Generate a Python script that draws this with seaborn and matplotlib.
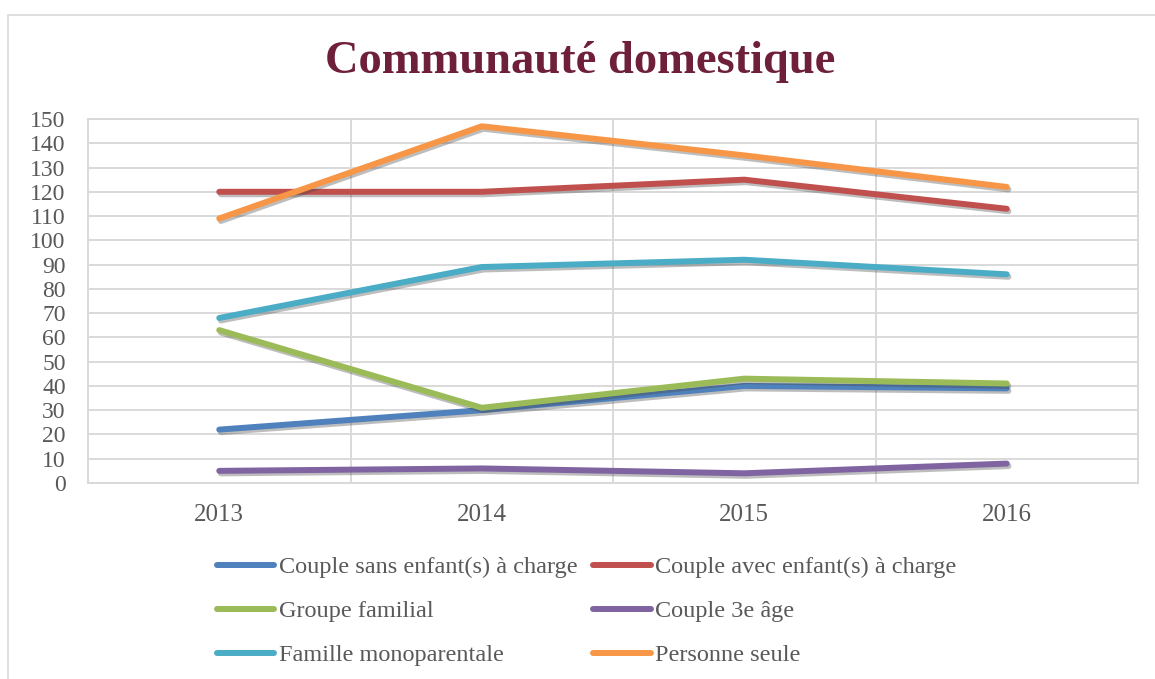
import matplotlib.pyplot as plt
import matplotlib.patheffects as pe
from matplotlib.lines import Line2D
import pandas as pd
import seaborn as sns

YEARS = ['2013', '2014', '2015', '2016']
SERIES = [
    'Couple sans enfant(s) à charge',
    'Couple avec enfant(s) à charge',
    'Groupe familial',
    'Couple 3e âge',
    'Famille monoparentale',
    'Personne seule',
]
couple_sans = [22, 30, 40, 39]
couple_avec = [120, 120, 125, 113]
groupe_familial = [63, 31, 43, 41]
couple_3e_age = [5, 6, 4, 8]
famille_mono = [68, 89, 92, 86]
personne_seule = [109, 147, 135, 122]
COLORS = ['#4F81BD', '#C0504D', '#9BBB59', '#8064A2', '#4BACC6', '#F79646']


def main() -> None:
    values = [couple_sans, couple_avec, groupe_familial, couple_3e_age, famille_mono, personne_seule]
    rows = []
    for name, vals in zip(SERIES, values):
        for year, v in zip(YEARS, vals):
            rows.append({'year': year, 'serie': name, 'value': v})
    df = pd.DataFrame(rows)

    sns.set_theme(style='white')
    plt.rcParams['font.family'] = ['Liberation Serif', 'DejaVu Serif']

    fig = plt.figure(figsize=(11.55, 6.79), dpi=100)
    ax = fig.add_axes([88 / 1155, 1 - 483 / 679, 1050 / 1155, 364 / 679])

    sns.lineplot(data=df, x='year', y='value', hue='serie', hue_order=SERIES,
                 palette=COLORS, linewidth=4.3, ax=ax, sort=False,
                 solid_capstyle='round', solid_joinstyle='round',
                 path_effects=[pe.SimpleLineShadow(offset=(1.2, -1.8), shadow_color='#444444', alpha=0.35),
                               pe.Normal()])

    ax.set_xlim(-0.5, 3.5)
    ax.set_ylim(0, 150)
    ax.set_yticks(range(0, 151, 10))
    ax.set_xticks(range(len(YEARS)))
    ax.set_xticklabels(YEARS)
    ax.set_xticks([0.5, 1.5, 2.5], minor=True)
    ax.grid(axis='y', which='major', color='#D9D9D9', linewidth=1.4)
    ax.grid(axis='x', which='minor', color='#D9D9D9', linewidth=1.4)
    ax.grid(axis='x', which='major', visible=False)
    ax.set_axisbelow(True)
    for s in ax.spines.values():
        s.set_color('#D9D9D9')
        s.set_linewidth(1.4)
    ax.tick_params(axis='y', length=0, pad=16, labelsize=17, labelcolor='#595959')
    ax.tick_params(axis='x', which='both', length=0, pad=15, labelsize=18, labelcolor='#595959')
    ax.set_xlabel('')
    ax.set_ylabel('')

    fig.text(0.502, 1 - 62 / 679, 'Communauté domestique', ha='center', va='center',
             fontsize=33.5, fontweight='bold', color='#6E1F3A')

    ax.get_legend().remove()
    order = [0, 2, 4, 1, 3, 5]
    leg_handles = [Line2D([0], [0], color=COLORS[i], linewidth=4.3, solid_capstyle='round') for i in order]
    fig.legend(leg_handles, [SERIES[i] for i in order], ncol=2, frameon=False,
               loc='upper left', bbox_to_anchor=(217 / 1155, 1 - 556 / 679),
               fontsize=17.5, handlelength=2.35, handletextpad=0.2, columnspacing=0.65,
               labelspacing=0.91, borderaxespad=0, borderpad=0, labelcolor='#595959')

    # outer chart border
    fig.add_artist(Line2D([8 / 1155, 8 / 1155], [0, 1 - 15 / 679], color='#D9D9D9', linewidth=1.2))
    fig.add_artist(Line2D([8 / 1155, 1], [1 - 15 / 679, 1 - 15 / 679], color='#D9D9D9', linewidth=1.2))

    fig.savefig('out.png', dpi=100)
    plt.close(fig)


if __name__ == '__main__':
    main()
